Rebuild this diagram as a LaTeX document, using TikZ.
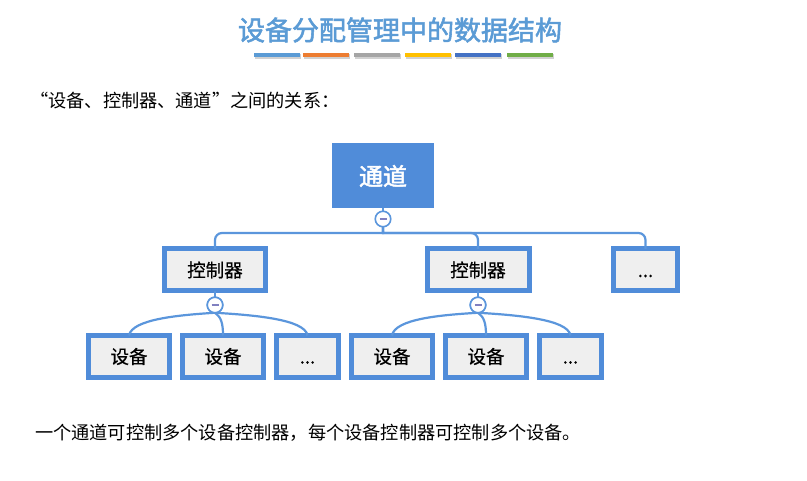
\documentclass[tikz,border=0pt]{standalone}
\usepackage{fontspec}
\newfontfamily\cjk{Noto Sans CJK SC}
\newfontfamily\cjkb[FakeBold=2]{Noto Sans CJK SC}
\newfontfamily\cjkm[FakeBold=0.6]{Noto Sans CJK SC}
\definecolor{boxblue}{RGB}{80,140,217}
\definecolor{linkblue}{RGB}{91,150,220}
\definecolor{titleblue}{RGB}{91,155,213}
\definecolor{boxfill}{RGB}{239,239,239}
\definecolor{minusc}{RGB}{128,128,192}
\definecolor{barA}{RGB}{91,155,213}
\definecolor{barB}{RGB}{237,125,49}
\definecolor{barC}{RGB}{165,165,165}
\definecolor{barD}{RGB}{255,192,0}
\definecolor{barE}{RGB}{68,114,196}
\definecolor{barF}{RGB}{112,173,71}
\tikzset{
  leafbox/.style={draw=boxblue, line width=5pt, fill=boxfill, inner sep=0pt, outer sep=0pt,
    minimum height=42pt, font=\cjkm\fontsize{18.5}{20}\selectfont, text=black,
    execute at begin node={\vphantom{设备}}},
  topbox/.style={fill=boxblue, inner sep=0pt, outer sep=0pt, minimum width=102pt, minimum height=65pt,
    font=\cjkb\fontsize{24}{26}\selectfont, text=white},
  knob/.style={circle, draw=linkblue, line width=1.6pt, fill=white, minimum size=15.5pt, inner sep=0pt, outer sep=0pt},
  link/.style={draw=linkblue, line width=2.2pt},
  bar/.style={inner sep=0pt, minimum width=46pt, minimum height=4.5pt},
  plain/.style={font=\cjk\fontsize{18.2}{20}\selectfont, text=black, anchor=west, inner sep=0pt}
}
\newcommand{\minusmark}[1]{\draw[minusc, line width=1.6pt] ([xshift=-3.5pt]#1.center) -- ([xshift=3.5pt]#1.center);}
\begin{document}
\begin{tikzpicture}[x=1pt,y=-1pt]
\useasboundingbox (0,0) rectangle (807,481);
% title
\node[font=\cjkb\fontsize{27}{29}\selectfont, text=titleblue, inner sep=0pt] (title) at (400,30) {设备分配管理中的数据结构};
% colour bars
\foreach \cx/\col [count=\i] in {276.5/barA,326/barB,377/barC,428/barD,478/barE,530/barF}{
  \fill[black!18] (\cx-23+1,53+1.5) rectangle (\cx+23+1,57.5+1.5);
  \node[bar, fill=\col] (bar\i) at (\cx,55.2) {};
}
% subtitle
\node[plain] (sub) at (30,101) {“设备、控制器、通道”之间的关系：};
% bottom text
\node[plain] (note) at (35,433) {一个通道可控制多个设备控制器，每个设备控制器可控制多个设备。};

% tree
\node[topbox] (top) at (383,176) {通道};
\node[knob] (k0) at (383,219) {};
\minusmark{k0}
\coordinate (hl) at (0,233);

\node[leafbox, minimum width=101pt] (ctl1) at (215,270) {控制器};
\node[leafbox, minimum width=102pt] (ctl2) at (478,270) {控制器};
\node[leafbox, minimum width=64pt] (ctl3) at (645.5,270) {...};

\draw[link] (top.south) -- (k0.north);
\foreach \t in {ctl1,ctl2,ctl3}{
  \draw[link] (k0.south) -- (k0.south |- hl) [rounded corners=7pt] -| (\t.north);
}

\node[knob] (k1) at (215,305) {};
\node[knob] (k2) at (478,305) {};
\draw[link] (ctl1.south) -- (k1.north);
\draw[link] (ctl2.south) -- (k2.north);

\node[leafbox, minimum width=81pt] (d1) at (129,356.5) {设备};
\node[leafbox, minimum width=81pt] (d2) at (223,356.5) {设备};
\node[leafbox, minimum width=62pt] (d3) at (307.5,356.5) {...};
\node[leafbox, minimum width=81pt] (d4) at (392,356.5) {设备};
\node[leafbox, minimum width=81pt] (d5) at (486,356.5) {设备};
\node[leafbox, minimum width=62pt] (d6) at (570.5,356.5) {...};

% curved links, group 1
\draw[link] (k1.south) .. controls (180,315) and (132,319) .. (d1.north);
\draw[link] (k1.south) .. controls (221,317) and (223,323) .. (d2.north);
\draw[link] (k1.south) .. controls (252,315) and (305,319) .. (d3.north);
% curved links, group 2
\draw[link] (k2.south) .. controls (440,315) and (395,319) .. (d4.north);
\draw[link] (k2.south) .. controls (484,317) and (486,323) .. (d5.north);
\draw[link] (k2.south) .. controls (515,315) and (568,319) .. (d6.north);
% knobs above links
\node[knob] at (k1) {};
\minusmark{k1}
\node[knob] at (k2) {};
\minusmark{k2}
\end{tikzpicture}
\end{document}
